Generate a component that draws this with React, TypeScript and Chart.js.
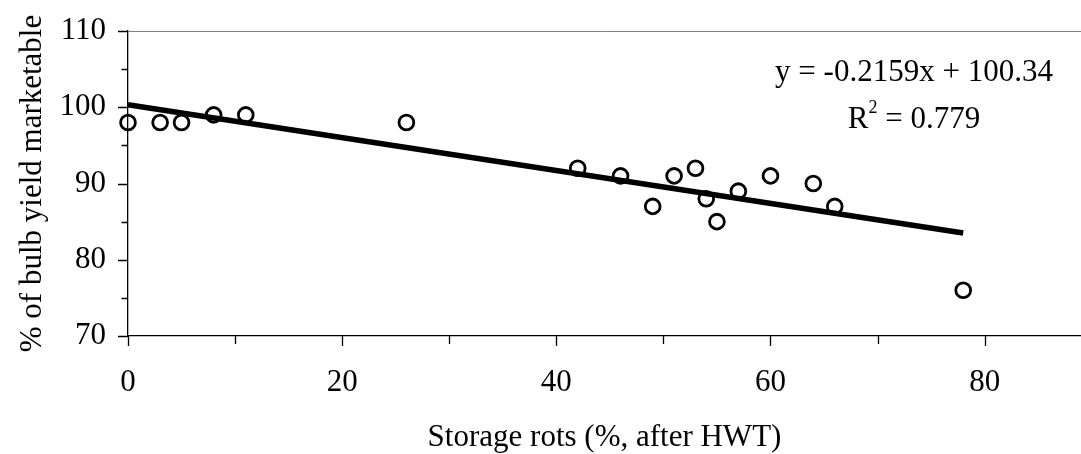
import { useEffect, useRef } from "react";
import { Chart, registerables } from "chart.js";

Chart.register(...registerables);

// ---- data ----
const storageRots = [0, 3, 5, 8, 11, 26, 42, 46, 49, 51, 53, 54, 55, 57, 60, 64, 66, 78];
const bulbYield = [98, 98, 98, 99, 99, 98, 92, 91, 87, 91, 92, 88, 85, 89, 91, 90, 87, 76];

// trend line end points (y = -0.2159x + 100.34, drawn from x = 0 to x = 78)
const trendX = [0, 78];
const trendY = [100.34, 83.5];

const xTicks = [0, 10, 20, 30, 40, 50, 60, 70, 80];
const xLabelTicks = [0, 20, 40, 60, 80];
const yTicks = [70, 75, 80, 85, 90, 95, 100, 105, 110];
const yLabelTicks = [70, 80, 90, 100, 110];

const xMin = 0;
const xMax = 89;
const yMin = 70;
const yMax = 110;

const equationText = "y = -0.2159x + 100.34";
const r2Label = "R";
const r2Sup = "2";
const r2Rest = " = 0.779";
const xTitle = "Storage rots (%, after HWT)";
const yTitle = "% of bulb yield marketable";

const FONT = '"Liberation Serif", "Times New Roman", Times, serif';
const FS = 31;

const decorPlugin = {
  id: "decor",
  afterDraw(chart: any) {
    const { ctx, chartArea: area, scales } = chart;
    const xs = scales.x;
    const ys = scales.y;
    ctx.save();
    // top plot-area line (gray)
    ctx.strokeStyle = "#808080";
    ctx.lineWidth = 1;
    ctx.beginPath();
    ctx.moveTo(area.left, area.top + 0.5);
    ctx.lineTo(area.right, area.top + 0.5);
    ctx.stroke();

    // tick marks
    ctx.strokeStyle = "#000";
    ctx.lineWidth = 1.3;
    ctx.beginPath();
    for (const v of yTicks) {
      const py = Math.round(ys.getPixelForValue(v)) + 0.5;
      const len = yLabelTicks.includes(v) ? 10 : 6.5;
      ctx.moveTo(area.left - len, py);
      ctx.lineTo(area.left, py);
    }
    for (const v of xTicks) {
      const px = Math.round(xs.getPixelForValue(v)) + 0.5;
      const len = xLabelTicks.includes(v) ? 10 : 8;
      ctx.moveTo(px, area.bottom);
      ctx.lineTo(px, area.bottom + len);
    }
    ctx.stroke();

    // regression equation
    const cx = area.right - 167;
    const base1 = area.top + 50;
    const base2 = area.top + 97;
    ctx.fillStyle = "#000";
    ctx.textBaseline = "alphabetic";
    ctx.font = `${FS}px ${FONT}`;
    ctx.textAlign = "center";
    ctx.fillText(equationText, cx, base1);

    ctx.textAlign = "left";
    const wR = ctx.measureText(r2Label).width;
    const wRest = ctx.measureText(r2Rest).width;
    ctx.font = `18px ${FONT}`;
    const wSup = ctx.measureText(r2Sup).width;
    const total = wR + wSup + wRest;
    let sx = cx - total / 2;
    ctx.font = `${FS}px ${FONT}`;
    ctx.fillText(r2Label, sx, base2);
    sx += wR;
    ctx.font = `18px ${FONT}`;
    ctx.fillText(r2Sup, sx, base2 - 15);
    sx += wSup;
    ctx.font = `${FS}px ${FONT}`;
    ctx.fillText(r2Rest, sx, base2);
    ctx.restore();
  },
};

export default function App() {
  const canvasRef = useRef<HTMLCanvasElement | null>(null);

  useEffect(() => {
    document.body.style.margin = "0";
    const canvas = canvasRef.current;
    if (!canvas) return;

    const points = storageRots.map((x, i) => ({ x, y: bulbYield[i] }));
    const trend = trendX.map((x, i) => ({ x, y: trendY[i] }));

    const chart = new Chart(canvas, {
      type: "scatter",
      data: {
        datasets: [
          {
            label: "trend",
            data: trend,
            showLine: true,
            borderColor: "#000",
            borderWidth: 5.5,
            borderCapStyle: "butt",
            pointRadius: 0,
            pointHoverRadius: 0,
            order: 0,
            clip: false,
          } as any,
          {
            label: "yield",
            data: points,
            showLine: false,
            pointStyle: "circle",
            pointRadius: 7.4,
            pointHoverRadius: 7.4,
            pointBorderWidth: 2.8,
            borderColor: "#000",
            backgroundColor: "rgba(0,0,0,0)",
            order: 1,
            clip: false,
          } as any,
        ],
      },
      options: {
        animation: false,
        responsive: false,
        maintainAspectRatio: false,
        events: [],
        layout: { autoPadding: false, padding: { top: 31, left: 0, right: 0, bottom: 0 } },
        plugins: {
          legend: { display: false },
          tooltip: { enabled: false },
        },
        scales: {
          x: {
            type: "linear",
            min: xMin,
            max: xMax,
            afterBuildTicks: (scale: any) => {
              scale.ticks = xTicks.map((v) => ({ value: v }));
            },
            afterFit: (scale: any) => {
              scale.height = 118;
            },
            grid: {
              display: true,
              drawOnChartArea: false,
              drawTicks: true,
              tickLength: 10,
              tickColor: "rgba(0,0,0,0)",
            },
            border: { display: true, color: "#000", width: 1.3 },
            ticks: {
              autoSkip: false,
              maxRotation: 0,
              padding: 21.5,
              color: "#000",
              font: { family: FONT, size: FS, lineHeight: 1 },
              callback: (v: any) => (xLabelTicks.includes(Number(v)) ? String(v) : ""),
            },
            title: {
              display: true,
              text: xTitle,
              color: "#000",
              font: { family: FONT, size: FS, lineHeight: 1 },
              padding: { top: 0, bottom: 1 },
            },
          },
          y: {
            type: "linear",
            min: yMin,
            max: yMax,
            afterBuildTicks: (scale: any) => {
              scale.ticks = yTicks.map((v) => ({ value: v }));
            },
            afterFit: (scale: any) => {
              scale.width = 128;
            },
            grid: {
              display: true,
              drawOnChartArea: false,
              drawTicks: true,
              tickLength: 10,
              tickColor: "rgba(0,0,0,0)",
            },
            border: { display: true, color: "#000", width: 1.3 },
            ticks: {
              autoSkip: false,
              padding: 12,
              color: "#000",
              font: { family: FONT, size: FS, lineHeight: 1 },
              callback: (v: any) => (yLabelTicks.includes(Number(v)) ? String(v) : ""),
            },
            title: {
              display: true,
              text: yTitle,
              color: "#000",
              font: { family: FONT, size: FS, lineHeight: 1 },
              padding: { top: 17, bottom: 0 },
            },
          },
        },
      },
      plugins: [decorPlugin],
    });

    return () => {
      chart.destroy();
    };
  }, []);

  return (
    <div style={{ width: 1081, height: 454, position: "relative", background: "#fff" }}>
      <canvas ref={canvasRef} width={1081} height={454} style={{ display: "block" }} />
    </div>
  );
}
